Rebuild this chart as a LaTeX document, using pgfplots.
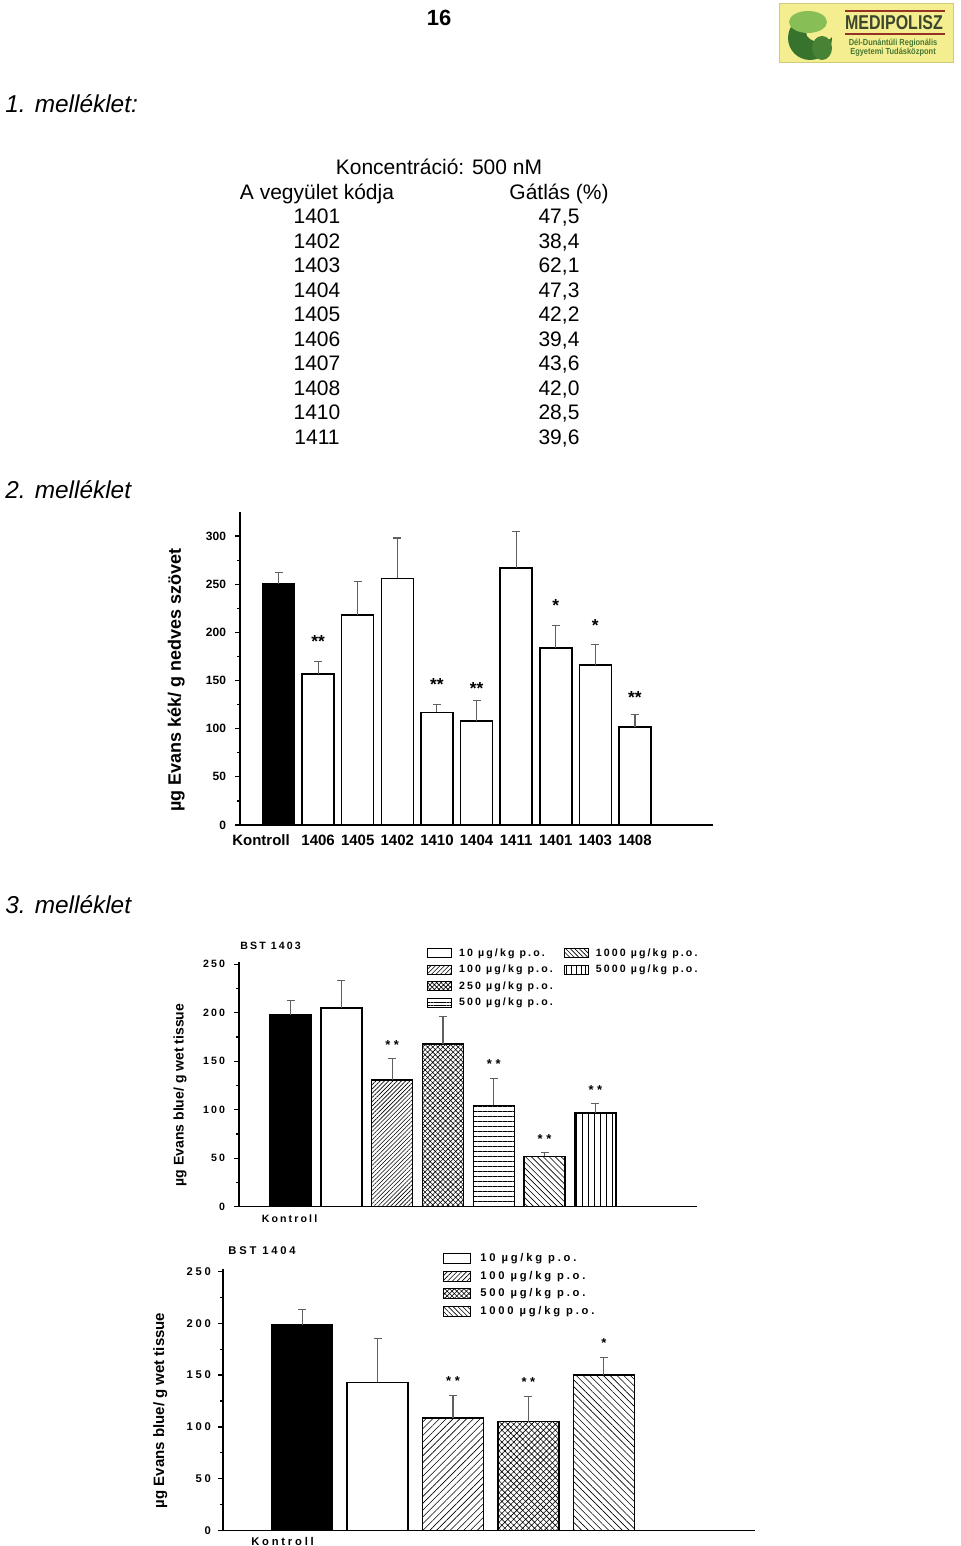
\documentclass[border=0pt]{standalone}
\usepackage{fontspec}
\setmainfont{Liberation Sans}
\newfontfamily\spA[LetterSpace=20]{Liberation Sans}
\newfontfamily\spB[LetterSpace=25]{Liberation Sans}
\usepackage{graphicx}
\usepackage{pgfplots}
\usepackage{pgfplotstable}
\pgfplotsset{compat=1.18}
\usetikzlibrary{patterns.meta}
\definecolor{logoY}{RGB}{245,238,145}
\definecolor{logoG1}{RGB}{55,115,45}
\definecolor{logoG2}{RGB}{135,190,85}
\definecolor{logoR}{RGB}{150,50,35}
\definecolor{logoT}{RGB}{60,70,45}
\definecolor{logoT2}{RGB}{70,120,50}
\definecolor{errc}{RGB}{95,95,95}

\pgfplotstableread{
x y e
1 157 12.5
2 218 35
3 256 42
4 117 8
5 108 21
6 267 37.5
7 184 23
8 166 21
9 102 13
}\chartAdata

\pgfplotsset{
  barst/.style={ybar, bar width=#1, bar shift=0pt, draw=black, line width=0.75pt, forget plot,
    error bars/y dir=plus, error bars/y explicit,
    error bars/error bar style={errc, line width=0.55pt},
    error bars/error mark options={rotate=90, mark size=2pt, errc, line width=0.55pt}},
  commonax/.style={anchor=south west, scale only axis, clip=false,
    axis lines=left, axis line style={-, line width=0.75pt},
    tick align=outside, major tick length=2.5pt, minor tick length=1.5pt,
    y tick style={black, line width=0.6pt}, x tick style={draw=none},
    every axis title shift=0pt,
    /pgf/number format/assume math mode=true},
}
\newcommand\sstar{*\hspace{1.8pt}*}

\begin{document}
\begin{tikzpicture}
\path[use as bounding box] (0,0) rectangle (480pt,773pt);

% header
\node[font=\bfseries\fontsize{11}{12}\selectfont] at (219.5pt,764pt) {16};
% logo
\fill[logoY] (389.5pt,742pt) rectangle (476.5pt,771.5pt);
\draw[logoY!85!black, line width=0.4pt] (389.5pt,742pt) rectangle (476.5pt,771.5pt);
\fill[logoG1] (405pt,754pt) circle (11pt);
\fill[logoY] (410pt,757pt) ellipse (7pt and 5pt);
\fill[logoG2] (404pt,762pt) ellipse (9.5pt and 5.5pt);
\fill[logoG1!80!logoG2] (411pt,749pt) ellipse (5pt and 6pt);
\draw[logoR, line width=0.8pt] (422.5pt,767.5pt) -- (472.5pt,767.5pt);
\draw[logoR, line width=0.8pt] (422.5pt,756pt) -- (472.5pt,756pt);
\node[logoT, font=\bfseries\fontsize{10}{10}\selectfont, inner sep=0pt] at (447pt,761.7pt) {\scalebox{0.8}[1]{MEDIPOLISZ}};
\node[logoT2, font=\bfseries\fontsize{4.4}{5}\selectfont, inner sep=0pt] at (446.5pt,751.5pt) {\scalebox{0.85}[1]{Dél-Dunántúli Regionális}};
\node[logoT2, font=\bfseries\fontsize{4.4}{5}\selectfont, inner sep=0pt] at (446.5pt,747pt) {\scalebox{0.85}[1]{Egyetemi Tudásközpont}};

% section titles
\node[anchor=base west, font=\itshape\fontsize{12.2}{14}\selectfont, inner sep=0pt] at (2.5pt,716.5pt) {1. melléklet:};
\node[anchor=base west, font=\itshape\fontsize{12.2}{14}\selectfont, inner sep=0pt] at (2.5pt,523.5pt) {2. melléklet};
\node[anchor=base west, font=\itshape\fontsize{12.2}{14}\selectfont, inner sep=0pt] at (2.5pt,316pt) {3. melléklet};

% table
\begin{scope}[every node/.style={anchor=base, inner sep=0pt, font=\fontsize{10.5}{12}\selectfont}]
\node at (219.5pt,685.75pt) {Koncentráció: 500 nM};
\node at (158.5pt,673.25pt) {A vegyület kódja};
\node at (279.5pt,673.25pt) {Gátlás (\%)};
\node at (158.5pt,661.25pt) {1401}; \node at (279.5pt,661.25pt) {47,5};
\node at (158.5pt,648.97pt) {1402}; \node at (279.5pt,648.97pt) {38,4};
\node at (158.5pt,636.69pt) {1403}; \node at (279.5pt,636.69pt) {62,1};
\node at (158.5pt,624.41pt) {1404}; \node at (279.5pt,624.41pt) {47,3};
\node at (158.5pt,612.13pt) {1405}; \node at (279.5pt,612.13pt) {42,2};
\node at (158.5pt,599.85pt) {1406}; \node at (279.5pt,599.85pt) {39,4};
\node at (158.5pt,587.57pt) {1407}; \node at (279.5pt,587.57pt) {43,6};
\node at (158.5pt,575.29pt) {1408}; \node at (279.5pt,575.29pt) {42,0};
\node at (158.5pt,563.01pt) {1410}; \node at (279.5pt,563.01pt) {28,5};
\node at (158.5pt,550.73pt) {1411}; \node at (279.5pt,550.73pt) {39,6};
\end{scope}

% ---------- chart 2 ----------
\begin{axis}[commonax, at={(120pt,360.5pt)}, width=236.5pt, height=156.5pt,
  xmin=-0.972, xmax=10.97, ymin=0, ymax=325,
  ytick={0,50,...,300}, minor y tick num=1,
  xtick={-0.44,1,2,3,4,5,6,7,8,9},
  xticklabels={Kontroll,1406,1405,1402,1410,1404,1411,1401,1403,1408},
  y tick label style={font=\bfseries\fontsize{6}{7}\selectfont, xshift=-1pt},
  x tick label style={font=\bfseries\fontsize{7.5}{8}\selectfont, yshift=1pt},
  ylabel={µg Evans kék/ g nedves szövet},
  ylabel style={at={(axis description cs:-0.135,0.463)}, anchor=center, font=\bfseries\fontsize{9}{10}\selectfont},
]
\addplot[barst=0.808, fill=black] coordinates {(0,250) +- (0,12)};
\addplot[barst=0.808, fill=white] table[x=x, y=y, y error=e] {\chartAdata};
\begin{scope}[every node/.style={anchor=base, inner sep=0pt, font=\bfseries\fontsize{8.7}{9}\selectfont}]
\node at (axis cs:1,183.8) {**};
\node at (axis cs:4,139.3) {**};
\node at (axis cs:5,135.8) {**};
\node at (axis cs:7,221.4) {*};
\node at (axis cs:8,200.6) {*};
\node at (axis cs:9,125.8) {**};
\end{scope}
\end{axis}

% ---------- chart 3 (BST 1403) ----------
\begin{axis}[commonax, at={(119.5pt,169.65pt)}, width=229pt, height=122.2pt,
  xmin=-1.014, xmax=8.0, ymin=0, ymax=252,
  ytick={0,50,...,250}, minor y tick num=1,
  xtick={-0.02}, xticklabels={Kontroll},
  y tick label style={font=\spA\bfseries\fontsize{5.3}{6}\selectfont, xshift=-1pt},
  x tick label style={font=\spA\bfseries\fontsize{5.3}{6}\selectfont, yshift=2.2pt},
  ylabel={µg Evans blue/ g wet tissue},
  ylabel style={at={(axis description cs:-0.129,0.457)}, anchor=center, font=\bfseries\fontsize{7}{8}\selectfont},
  title={BST 1403},
  title style={at={(axis description cs:0.002,1.067)}, anchor=west, inner sep=0pt, font=\spA\bfseries\fontsize{5.3}{6}\selectfont},
  legend image code/.code={\draw[#1, line width=0.5pt] (0pt,-2.25pt) rectangle (12pt,2.25pt);},
  legend columns=2, legend cell align=left,
  legend style={at={(axis description cs:0.41,1.064)}, anchor=north west, draw=none, fill=none, inner sep=0pt,
    font=\spA\bfseries\fontsize{5.3}{6}\selectfont,
    nodes={inner sep=0.5pt, text height=4pt, text depth=1.2pt},
    row sep=2.05pt, column sep=3pt,
    /tikz/every even column/.append style={column sep=5pt}},
]
\addplot[barst=0.807, fill=black] coordinates {(0,197.5) +- (0,15)};
\addplot[barst=0.807, fill=white] coordinates {(1,205) +- (0,28)};
\addplot[barst=0.807, pattern={Lines[angle=45,distance=1.5pt,line width=0.3pt]}] coordinates {(2,130.5) +- (0,22)};
\addplot[barst=0.807, pattern={Hatch[angle=45,distance=1.8pt,line width=0.3pt]}] coordinates {(3,168) +- (0,28)};
\addplot[barst=0.807, pattern={Lines[angle=0,distance=2.5pt,line width=0.3pt]}] coordinates {(4,104.5) +- (0,28)};
\addplot[barst=0.807, pattern={Lines[angle=-45,distance=2.1pt,line width=0.3pt]}] coordinates {(5,52) +- (0,3.7)};
\addplot[barst=0.807, pattern={Lines[angle=90,distance=3pt,line width=0.3pt]}] coordinates {(6,96.5) +- (0,10)};
\addlegendimage{draw=black, fill=white}\addlegendentry{10 µg/kg p.o.}
\addlegendimage{draw=black, pattern={Lines[angle=-45,distance=1.6pt,line width=0.3pt]}}\addlegendentry{1000 µg/kg p.o.}
\addlegendimage{draw=black, pattern={Lines[angle=45,distance=1.6pt,line width=0.3pt]}}\addlegendentry{100 µg/kg p.o.}
\addlegendimage{draw=black, pattern={Lines[angle=90,distance=2.4pt,line width=0.3pt]}}\addlegendentry{5000 µg/kg p.o.}
\addlegendimage{draw=black, pattern={Hatch[angle=45,distance=1.6pt,line width=0.3pt]}}\addlegendentry{250 µg/kg p.o.}
\addlegendimage{empty legend}\addlegendentry{}
\addlegendimage{draw=black, pattern={Lines[angle=0,distance=1.6pt,line width=0.3pt]}}\addlegendentry{500 µg/kg p.o.}
\begin{scope}[every node/.style={anchor=base, inner sep=0pt, font=\bfseries\fontsize{6.5}{7}\selectfont}]
\node at (axis cs:2,161.6) {\sstar};
\node at (axis cs:4,142) {\sstar};
\node at (axis cs:5,64.7) {\sstar};
\node at (axis cs:6,115.2) {\sstar};
\end{scope}
\end{axis}

% ---------- chart 4 (BST 1404) ----------
\begin{axis}[commonax, at={(111.5pt,7.65pt)}, width=266pt, height=130.75pt,
  xmin=-1.049, xmax=6.003, ymin=0, ymax=252,
  ytick={0,50,...,250}, minor y tick num=1,
  xtick={-0.26}, xticklabels={Kontroll},
  y tick label style={font=\spB\bfseries\fontsize{5.6}{6}\selectfont},
  x tick label style={font=\spB\bfseries\fontsize{5.6}{6}\selectfont, yshift=2.6pt},
  ylabel={µg Evans blue/ g wet tissue},
  ylabel style={at={(axis description cs:-0.118,0.46)}, anchor=center, font=\bfseries\fontsize{7.5}{8}\selectfont},
  title={BST 1404},
  title style={at={(axis description cs:0.0094,1.07)}, anchor=west, inner sep=0pt, font=\spB\bfseries\fontsize{5.6}{6}\selectfont},
  legend image code/.code={\draw[#1, line width=0.5pt] (0pt,-2.5pt) rectangle (13.5pt,2.5pt);},
  legend cell align=left,
  legend style={at={(axis description cs:0.4135,1.068)}, anchor=north west, draw=none, fill=none, inner sep=0pt,
    font=\spB\bfseries\fontsize{5.6}{6}\selectfont,
    nodes={inner sep=0.5pt, text height=4.2pt, text depth=1.3pt},
    row sep=2.4pt, column sep=4pt},
]
\addplot[barst=0.805, fill=black] coordinates {(0,198) +- (0,15.2)};
\addplot[barst=0.805, fill=white] coordinates {(1,143) +- (0,42.5)};
\addplot[barst=0.805, pattern={Lines[angle=45,distance=2.4pt,line width=0.3pt]}] coordinates {(2,108.5) +- (0,21.5)};
\addplot[barst=0.805, pattern={Hatch[angle=45,distance=2.1pt,line width=0.3pt]}] coordinates {(3,105) +- (0,24.5)};
\addplot[barst=0.805, pattern={Lines[angle=-45,distance=2.4pt,line width=0.3pt]}] coordinates {(4,150) +- (0,17)};
\addlegendimage{draw=black, fill=white}\addlegendentry{10 µg/kg p.o.}
\addlegendimage{draw=black, pattern={Lines[angle=45,distance=1.7pt,line width=0.3pt]}}\addlegendentry{100 µg/kg p.o.}
\addlegendimage{draw=black, pattern={Hatch[angle=45,distance=1.7pt,line width=0.3pt]}}\addlegendentry{500 µg/kg p.o.}
\addlegendimage{draw=black, pattern={Lines[angle=-45,distance=1.7pt,line width=0.3pt]}}\addlegendentry{1000 µg/kg p.o.}
\begin{scope}[every node/.style={anchor=base, inner sep=0pt, font=\bfseries\fontsize{6.5}{7}\selectfont}]
\node at (axis cs:2,140.4) {\sstar};
\node at (axis cs:3,138.5) {\sstar};
\node at (axis cs:4,177) {*};
\end{scope}
\end{axis}
\end{tikzpicture}
\end{document}
